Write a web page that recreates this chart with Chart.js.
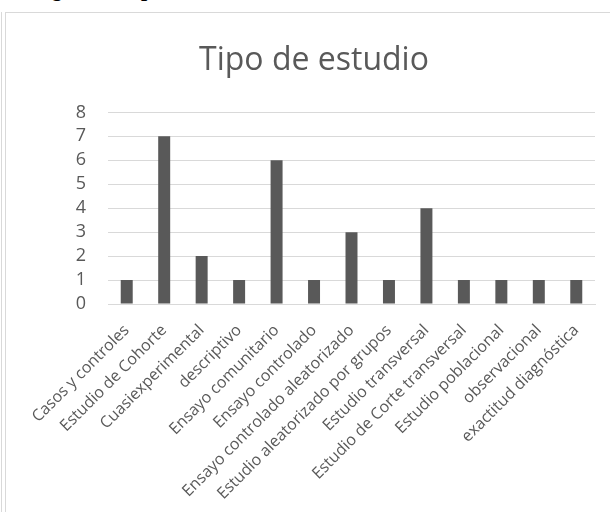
<!DOCTYPE html>
<html>
<head>
<meta charset="utf-8">
<script src="https://cdn.jsdelivr.net/npm/chart.js@4/dist/chart.umd.min.js"></script>
<style>
  html, body { margin: 0; padding: 0; background: #fff; overflow: hidden; }
  body { width: 610px; height: 512px; position: relative; }
  #caption { position: absolute; left: 33px; top: -24px; font: italic bold 22px "Liberation Serif", serif; color: #000; }
  #edge { position: absolute; left: 1px; top: 12px; width: 0; height: 520px; border-left: 1px solid #d9d9d9; }
  #box { position: absolute; left: 5px; top: 12px; width: 620px; height: 510px; border: 1px solid #d9d9d9; }
</style>
</head>
<body>
<div id="caption">Figura 5. Tipo de estudio</div>
<div id="edge"></div>
<div id="box"><canvas id="chart" width="620" height="510"></canvas></div>
<script>
  // Datos del gráfico
  const categorias = [
    'Casos y controles', 'Estudio de Cohorte', 'Cuasiexperimental', 'descriptivo',
    'Ensayo comunitario', 'Ensayo controlado', 'Ensayo controlado aleatorizado',
    'Estudio aleatorizado por grupos', 'Estudio transversal', 'Estudio de Corte transversal',
    'Estudio poblacional', 'observacional', 'exactitud diagnóstica'
  ];
  const cantidades = [1, 7, 2, 1, 6, 1, 3, 1, 4, 1, 1, 1, 1];
  const ticksY = [0, 1, 2, 3, 4, 5, 6, 7, 8];

  const gris = '#595959';
  const rejilla = '#d9d9d9';

  const ctx = document.getElementById('chart').getContext('2d');
  new Chart(ctx, {
    type: 'bar',
    data: {
      labels: categorias,
      datasets: [{
        label: 'Tipo de estudio',
        data: cantidades,
        backgroundColor: gris,
        categoryPercentage: 1,
        barPercentage: 0.32
      }]
    },
    options: {
      responsive: false,
      animation: false,
      layout: { padding: { top: 0, right: 31, left: 27, bottom: 0 } },
      plugins: {
        legend: { display: false },
        tooltip: { enabled: false },
        title: {
          display: true,
          text: 'Tipo de estudio',
          color: gris,
          font: { family: 'Open Sans', size: 32, weight: 'normal' },
          padding: { top: 29, bottom: 32 }
        }
      },
      scales: {
        x: {
          grid: { display: false, drawTicks: false },
          border: { color: rejilla, width: 1 },
          ticks: {
            color: gris,
            font: { family: 'Open Sans', size: 16 },
            minRotation: 45,
            maxRotation: 45,
            autoSkip: false,
            padding: 17
          },
          afterFit: (s) => { s.height = 219; }
        },
        y: {
          min: 0,
          max: 8,
          afterBuildTicks: (s) => { s.ticks = ticksY.map(v => ({ value: v })); },
          grid: { color: rejilla, drawTicks: false },
          border: { display: false },
          ticks: {
            color: gris,
            font: { family: 'Open Sans', size: 18 },
            autoSkip: false,
            padding: 22
          },
          afterFit: (s) => { s.width = 75; }
        }
      }
    }
  });
</script>
</body>
</html>
